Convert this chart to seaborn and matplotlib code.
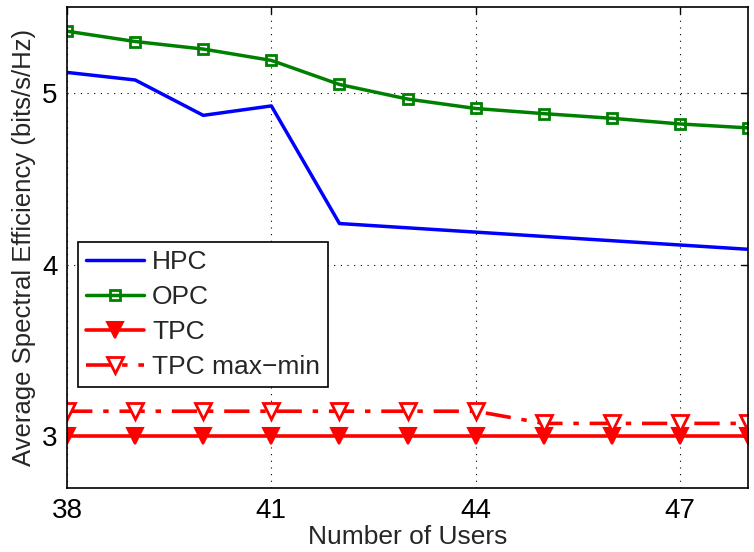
import numpy as np
import pandas as pd
import seaborn as sns
import matplotlib
matplotlib.use("Agg")
import matplotlib.pyplot as plt

# values
users = [38, 39, 40, 41, 42, 43, 44, 45, 46, 47, 48]
hpc = [5.12, 5.076, 4.87, 4.925, 4.24, 4.215, 4.19, 4.165, 4.14, 4.115, 4.09]
opc = [5.36, 5.30, 5.256, 5.19, 5.05, 4.965, 4.91, 4.88, 4.853, 4.82, 4.797]
tpc = [3.0, 3.0, 3.0, 3.0, 3.0, 3.0, 3.0, 3.0, 3.0, 3.0, 3.0]
tpc_maxmin = [3.147, 3.147, 3.147, 3.147, 3.147, 3.147, 3.147, 3.076, 3.076, 3.076, 3.076]

sns.set_style("white")
plt.rcParams['font.family'] = ['Liberation Sans', 'DejaVu Sans']

fig = plt.figure(figsize=(7.54, 5.52), dpi=100)
ax = fig.add_axes([0.089, 0.116, 0.903, 0.871])

sns.lineplot(x=users, y=hpc, ax=ax, color="#0000ff", linewidth=2.5, label="HPC")
sns.lineplot(x=users, y=opc, ax=ax, color="#008000", linewidth=2.5, marker="s",
             markersize=7.5, markerfacecolor="none", markeredgecolor="#008000",
             markeredgewidth=2, label="OPC")
sns.lineplot(x=users, y=tpc, ax=ax, color="#ff0000", linewidth=2.6, marker="v",
             markersize=11, markerfacecolor="#ff0000", markeredgecolor="#ff0000",
             markeredgewidth=1.5, label="TPC")
sns.lineplot(x=users, y=tpc_maxmin, ax=ax, color="#ff0000", linewidth=2.6, marker="v",
             markersize=11, markerfacecolor="white", markeredgecolor="#ff0000",
             markeredgewidth=2, label="TPC max\u2212min")
ax.lines[-1].set_dashes([7, 3, 1.5, 3])

ax.set_xlim(38, 48)
ax.set_ylim(2.7, 5.5)
ax.set_xticks([38, 41, 44, 47])
ax.set_yticks([3, 4, 5])
ax.tick_params(direction="in", labelsize=20, length=5, width=1, top=True, right=True,
               colors="black")
ax.tick_params(axis="x", pad=7)
ax.tick_params(axis="y", pad=7)
ax.grid(True, linestyle=(0, (1, 5)), color="black", linewidth=0.8)
for s in ax.spines.values():
    s.set_color("black")
    s.set_linewidth(1.2)

ax.set_xlabel("Number of Users", fontsize=19, labelpad=1)
ax.set_ylabel("Average Spectral Efficiency (bits/s/Hz)", fontsize=18.5, labelpad=4)

leg = ax.legend(loc="upper left", bbox_to_anchor=(0.016, 0.511), borderaxespad=0,
                fontsize=19, fancybox=False, edgecolor="black", framealpha=1,
                facecolor="white", handlelength=2.2, handletextpad=0.3,
                labelspacing=0.42, borderpad=0.3)
leg.get_frame().set_linewidth(1.2)

fig.savefig("out.png", dpi=100)
